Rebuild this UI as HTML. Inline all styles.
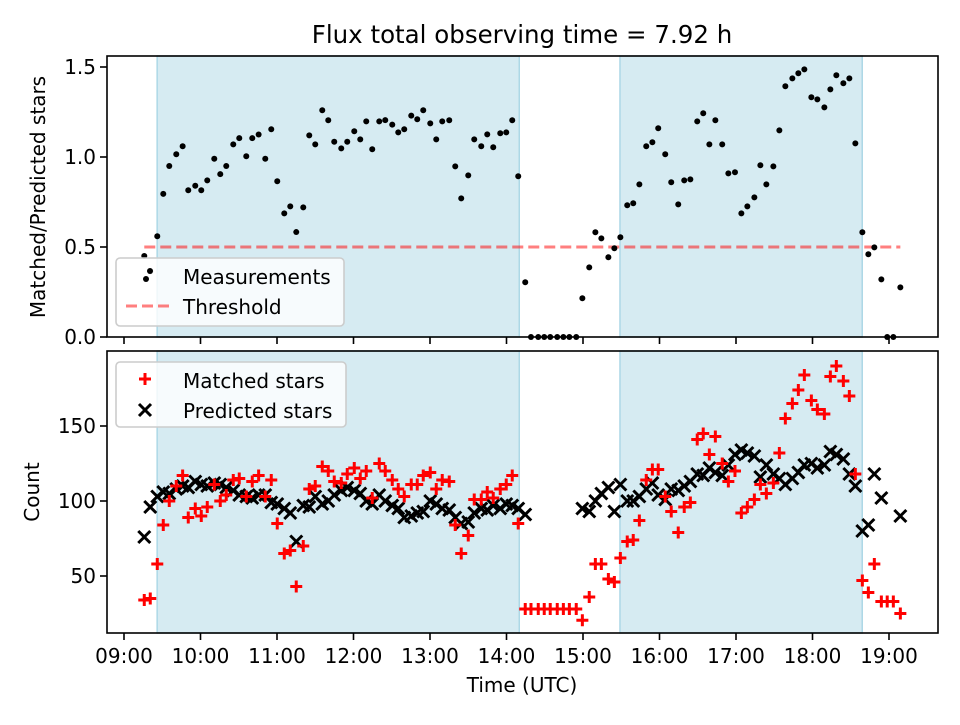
<!DOCTYPE html>
<html><head><meta charset="utf-8"><style>
html,body{margin:0;padding:0;background:#fff;}
svg text{font-family:"DejaVu Sans","Liberation Sans",sans-serif;fill:#000;}
</style></head><body>
<svg id="chart" width="960" height="720" viewBox="0 0 960 720" xmlns="http://www.w3.org/2000/svg">
<rect width="960" height="720" fill="#fff"/>
<text x="522" y="43" font-size="24.5" text-anchor="middle">Flux total observing time = 7.92 h</text>
<g id="topPanel"></g>
<g id="botPanel"></g>
<text x="522" y="692" font-size="20" text-anchor="middle">Time (UTC)</text>
<text x="0" y="0" font-size="20" text-anchor="middle" transform="translate(45,197) rotate(-90)">Matched/Predicted stars</text>
<text x="0" y="0" font-size="20" text-anchor="middle" transform="translate(39,492) rotate(-90)">Count</text>
</svg>
<script>
// minutes after 09:00
const times=[15.9,20.6,26.1,30.8,35.5,41.0,46.0,50.4,55.9,60.6,65.3,70.8,75.5,80.2,85.7,90.4,95.9,100.6,105.6,110.8,115.5,120.2,125.7,130.4,135.1,140.6,145.3,150.0,155.5,160.2,164.9,170.4,175.1,180.6,185.3,190.0,194.7,200.2,204.9,210.4,215.1,219.8,225.3,230.0,234.7,240.2,244.9,249.6,255.1,259.8,264.5,270.0,274.7,280.2,284.9,289.6,295.1,299.8,304.5,309.2,314.7,319.2,324.9,329.6,334.3,339.8,344.6,349.3,354.7,359.5,364.9,369.7,374.4,379.9,384.6,389.3,394.7,399.4,404.2,409.6,414.4,419.0,424.5,429.2,434.7,439.4,444.2,449.6,454.3,459.1,463.8,469.2,474.0,479.2,484.2,488.9,494.4,499.1,503.8,509.3,514.0,518.7,524.2,528.9,533.6,539.1,543.8,549.3,554.0,558.7,564.2,568.9,573.6,579.1,583.8,588.5,594.0,598.6,603.4,608.9];
const ratio=[0.45,0.365,0.56,0.795,0.95,1.015,1.06,0.815,0.84,0.815,0.87,0.99,0.905,0.95,1.07,1.105,1.004,1.105,1.125,0.99,1.154,0.865,0.687,0.726,0.583,0.72,1.12,1.07,1.26,1.204,1.085,1.048,1.085,1.143,1.098,1.198,1.043,1.198,1.205,1.18,1.137,1.154,1.23,1.21,1.26,1.187,1.098,1.198,1.204,0.948,0.77,0.898,1.098,1.06,1.126,1.054,1.132,1.137,1.204,0.893,0.304,0,0,0,0,0,0,0,0,0.215,0.387,0.582,0.548,0.443,0.493,0.554,0.732,0.743,0.848,1.06,1.082,1.16,1.015,0.86,0.737,0.87,0.876,1.198,1.243,1.07,1.204,1.07,0.909,0.915,0.687,0.726,0.776,0.954,0.848,0.948,1.148,1.393,1.437,1.465,1.487,1.332,1.32,1.276,1.376,1.454,1.41,1.437,1.076,0.582,0.46,0.498,0.32,0,0,0.276];
const matched=[34,35,58,84,100,110,117,89,95,90,96,111,100,104,114,115,103,113,117,103,114,85,65,67,43,70,108,110,123,120,113,112,118,122,115,120,102,125,120,114,108,103,111,111,117,119,108,114,113,84,65,77,101,101,106,102,108,111,117,85,28,28,28,28,28,28,28,28,28,20.5,36,58,58,48,46,62,73,74,87,114,121,121,103,93,79,96,99,141,145,131,143,125,113,120,92,96,101,111,105,112,132,155,165,174,184,167,161,158,183,190,180,170,118,47,39,58,33,33,33,25];
const predicted=[76,96,103,106,105,108,110,109,113,111,110,112,111,109,107,104,103,102,104,104,99,98,95,92,73,97,96,103,98,100,104,107,109,107,105,100,98,104,100,97,95,89,90,92,93,100,98,95,94,89,85,86,92,95,94,97,95,98,97,95,91,null,null,null,null,null,null,null,null,95,93,100,105,109,93,111,100,100,103,108,112,104,101,108,107,110,113,118,117,122,119,117,124,131,134,132,130,116,124,118,115,111,115,119,124,125,122,124,133,131,128,118,110,80,84,118,102,null,null,90];
const xTickLabels=["09:00","10:00","11:00","12:00","13:00","14:00","15:00","16:00","17:00","18:00","19:00"];
const topYTicks=[0.0,0.5,1.0,1.5];
const botYTicks=[50,100,150];
const spans=[[26,310],[389,579]]; // observing windows, minutes after 09:00
const threshold=0.5;

const NS="http://www.w3.org/2000/svg";
const L=107,R=938;
const TT=56,TB=337,BT=351,BB=633;
function xs(m){return 124+m/60*76.5;}
function ys1(v){return 337-v*180;}
function ys2(v){return 501-(v-100)*1.5;}
function mk(tag,attrs,parent){const e=document.createElementNS(NS,tag);for(const k in attrs)e.setAttribute(k,attrs[k]);parent.appendChild(e);return e;}

function panel(g,ptop,pbot,yfun,yticks,fmt,showLabels,pfx){
  spans.forEach((s,i)=>{
    const r=mk('rect',{x:xs(s[0]),y:ptop,width:xs(s[1])-xs(s[0]),height:pbot-ptop,fill:'#add8e6','fill-opacity':0.5,stroke:'#add8e6','stroke-width':1.5},g);
    
    
  });
  xTickLabels.forEach((lab,i)=>{
    const x=xs(i*60);
    const t=mk('line',{x1:x,x2:x,y1:pbot,y2:pbot+7,stroke:'#000','stroke-width':1.6},g);
    
    
    if(showLabels){
      const tx=mk('text',{x:x,y:663,'font-size':20,'text-anchor':'middle'},g);
      tx.textContent=lab;
      
      
    }
  });
  yticks.forEach(v=>{
    const y=yfun(v);
    const t=mk('line',{x1:L-7,x2:L,y1:y,y2:y,stroke:'#000','stroke-width':1.6},g);
    
    
    const tx=mk('text',{x:L-11,y:y+7,'font-size':20,'text-anchor':'end'},g);
    tx.textContent=fmt(v);
    
    
  });
}
const topG=document.getElementById('topPanel'),botG=document.getElementById('botPanel');
panel(topG,TT,TB,ys1,topYTicks,v=>v.toFixed(1),false,'top');
panel(botG,BT,BB,ys2,botYTicks,v=>String(v),true,'bottom');

// threshold
const th=mk('line',{x1:xs(times[0]),x2:xs(times[times.length-1]),y1:ys1(threshold),y2:ys1(threshold),stroke:'#ff0000','stroke-opacity':0.5,'stroke-width':3,'stroke-dasharray':'11 5'},topG);


// measurements
times.forEach((t,i)=>{
  const c=mk('circle',{cx:xs(t),cy:ys1(ratio[i]),r:3,fill:'#000'},topG);
  
  
});
// predicted (x)
times.forEach((t,i)=>{
  if(predicted[i]==null)return;
  const x=xs(t),y=ys2(predicted[i]),d=6;
  const p=mk('path',{d:`M${x-d} ${y-d}L${x+d} ${y+d}M${x-d} ${y+d}L${x+d} ${y-d}`,stroke:'#000','stroke-width':3},botG);
  
  
});
// matched (+)
times.forEach((t,i)=>{
  const x=xs(t),y=ys2(matched[i]),d=6;
  const p=mk('path',{d:`M${x-d} ${y}L${x+d} ${y}M${x} ${y-d}L${x} ${y+d}`,stroke:'#ff0000','stroke-width':3},botG);
  
  
});
// frames
[[topG,TT,TB],[botG,BT,BB]].forEach(([g,a,b],i)=>{
  const f=mk('rect',{x:L,y:a,width:R-L,height:b-a,fill:'none',stroke:'#000','stroke-width':1.6},g);
  
  
});
// legends
function legend(g,y0,h,w,entries,name){
  const lg=mk('g',{},g);
  
  
  mk('rect',{x:116,y:y0,width:w,height:h,rx:4,fill:'#fff','fill-opacity':0.8,stroke:'#cccccc','stroke-width':1.6},lg);
  entries.forEach((e,i)=>{
    const y=y0+19+i*30;
    e.draw(lg,y);
    const tx=mk('text',{x:183,y:y+7,'font-size':20},lg);
    tx.textContent=e.label;
    
    
  });
}
legend(topG,258,68,228,[
  {label:'Measurements',draw:(g,y)=>{mk('circle',{cx:146,cy:279,r:3,fill:'#000'},g);mk('circle',{cx:150,cy:271,r:3,fill:'#000'},g);}},
  {label:'Threshold',draw:(g,y)=>{mk('line',{x1:126,x2:172,y1:y-1,y2:y-1,stroke:'#ff0000','stroke-opacity':0.5,'stroke-width':3,'stroke-dasharray':'11 5'},g);}}
],'top-legend');
legend(botG,362,65,230,[
  {label:'Matched stars',draw:(g,y)=>{mk('path',{d:`M139 ${y-2}L151 ${y-2}M145 ${y-8}L145 ${y+4}`,stroke:'#ff0000','stroke-width':3},g);}},
  {label:'Predicted stars',draw:(g,y)=>{mk('path',{d:`M139 ${y-7}L151 ${y+5}M139 ${y+5}L151 ${y-7}`,stroke:'#000','stroke-width':3},g);}}
],'bottom-legend');
</script>
</body></html>
